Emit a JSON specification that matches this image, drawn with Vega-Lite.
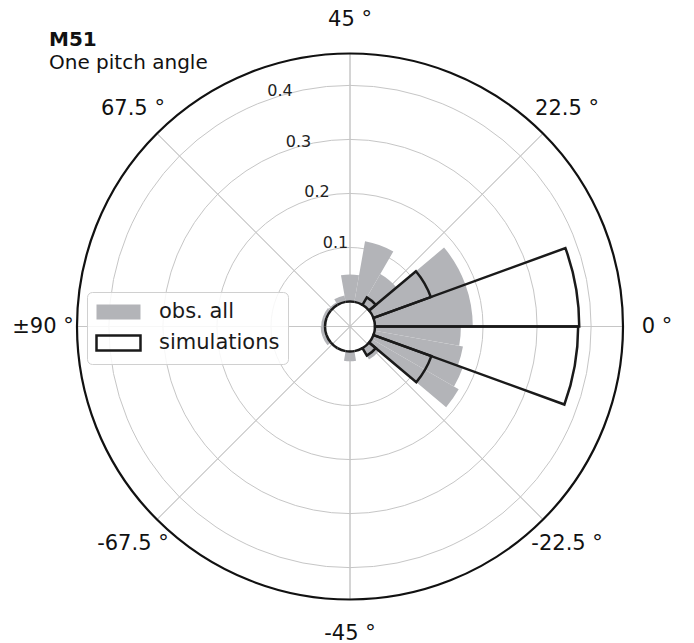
{
  "$schema": "https://vega.github.io/schema/vega-lite/v6.json",
  "width": 688,
  "height": 633,
  "autosize": {"type": "none"},
  "padding": {"left": 6, "top": 10, "right": 0, "bottom": 0},
  "background": "white",
  "title": {
    "text": "M51",
    "subtitle": "One pitch angle",
    "anchor": "start",
    "frame": "group",
    "orient": "top",
    "offset": 0,
    "dx": 43,
    "dy": 64,
    "font": "DejaVu Sans",
    "fontSize": 20,
    "fontWeight": "bold",
    "color": "#111111",
    "subtitleFont": "DejaVu Sans",
    "subtitleFontSize": 20,
    "subtitleColor": "#111111",
    "subtitlePadding": 3
  },
  "datasets": {
    "obs": [
      {"a0": 0, "a1": 10, "v": 0.181, "series": "obs. all"},
      {"a0": 10, "a1": 20, "v": 0.181, "series": "obs. all"},
      {"a0": 20, "a1": 30, "v": 0.066, "series": "obs. all"},
      {"a0": 30, "a1": 40, "v": 0.114, "series": "obs. all"},
      {"a0": 40, "a1": 50, "v": 0.050, "series": "obs. all"},
      {"a0": 50, "a1": 60, "v": 0.012, "series": "obs. all"},
      {"a0": 60, "a1": 70, "v": 0.005, "series": "obs. all"},
      {"a0": 70, "a1": 80, "v": 0.007, "series": "obs. all"},
      {"a0": 80, "a1": 90, "v": 0.007, "series": "obs. all"},
      {"a0": -90, "a1": -80, "v": 0.008, "series": "obs. all"},
      {"a0": -80, "a1": -70, "v": 0.008, "series": "obs. all"},
      {"a0": -70, "a1": -60, "v": 0.003, "series": "obs. all"},
      {"a0": -60, "a1": -50, "v": 0.0, "series": "obs. all"},
      {"a0": -50, "a1": -40, "v": 0.018, "series": "obs. all"},
      {"a0": -40, "a1": -30, "v": 0.0, "series": "obs. all"},
      {"a0": -30, "a1": -20, "v": 0.024, "series": "obs. all"},
      {"a0": -20, "a1": -15, "v": 0.186, "series": "obs. all"},
      {"a0": -15, "a1": -10, "v": 0.176, "series": "obs. all"},
      {"a0": -10, "a1": -5, "v": 0.166, "series": "obs. all"},
      {"a0": -5, "a1": 0, "v": 0.159, "series": "obs. all"}
    ],
    "sim": [
      {"a0": 0, "a1": 10, "v": 0.378, "series": "simulations"},
      {"a0": -10, "a1": 0, "v": 0.376, "series": "simulations"},
      {"a0": 10, "a1": 20, "v": 0.113, "series": "simulations"},
      {"a0": -20, "a1": -10, "v": 0.114, "series": "simulations"},
      {"a0": 20, "a1": 30, "v": 0.016, "series": "simulations"},
      {"a0": -30, "a1": -20, "v": 0.016, "series": "simulations"},
      {"a0": 30, "a1": 40, "v": 0, "series": "simulations"},
      {"a0": 40, "a1": 50, "v": 0, "series": "simulations"},
      {"a0": 50, "a1": 60, "v": 0, "series": "simulations"},
      {"a0": 60, "a1": 70, "v": 0, "series": "simulations"},
      {"a0": 70, "a1": 80, "v": 0, "series": "simulations"},
      {"a0": 80, "a1": 90, "v": 0, "series": "simulations"},
      {"a0": -90, "a1": -80, "v": 0, "series": "simulations"},
      {"a0": -80, "a1": -70, "v": 0, "series": "simulations"},
      {"a0": -70, "a1": -60, "v": 0, "series": "simulations"},
      {"a0": -60, "a1": -50, "v": 0, "series": "simulations"},
      {"a0": -50, "a1": -40, "v": 0, "series": "simulations"},
      {"a0": -40, "a1": -30, "v": 0, "series": "simulations"}
    ],
    "rings": [
      {"r": 0.1, "label": "0.1"},
      {"r": 0.2, "label": "0.2"},
      {"r": 0.3, "label": "0.3"},
      {"r": 0.4, "label": "0.4"}
    ],
    "spokes": [
      {"a": -90, "label": "±90 °"},
      {"a": -67.5, "label": "-67.5 °"},
      {"a": -45, "label": "-45 °"},
      {"a": -22.5, "label": "-22.5 °"},
      {"a": 0, "label": "0 °"},
      {"a": 22.5, "label": "22.5 °"},
      {"a": 45, "label": "45 °"},
      {"a": 67.5, "label": "67.5 °"}
    ],
    "frame": [{"rmax": 0.459}]
  },
  "layer": [
    {
      "data": {"name": "rings"},
      "mark": {"type": "arc", "filled": false, "stroke": "#c6c6c6", "strokeWidth": 1},
      "encoding": {
        "theta": {"datum": -90, "type": "quantitative", "stack": null, "scale": {"domain": [-90, 90], "range": [4.71238898038469, -1.5707963267948966], "zero": false, "nice": false}},
        "theta2": {"datum": 90},
        "radius": {"field": "r", "type": "quantitative", "stack": null, "scale": {"type": "linear", "domain": [0, 0.459], "range": [25, 273], "zero": false, "nice": false}},
        "radius2": {"value": 0}
      }
    },
    {
      "data": {"name": "spokes"},
      "mark": {"type": "arc", "filled": false, "stroke": "#c6c6c6", "strokeWidth": 1},
      "encoding": {
        "theta": {"field": "a", "type": "quantitative", "stack": null, "scale": {"domain": [-90, 90], "range": [4.71238898038469, -1.5707963267948966], "zero": false, "nice": false}},
        "theta2": {"field": "a"},
        "radius": {"datum": 0.459, "type": "quantitative", "stack": null, "scale": {"type": "linear", "domain": [0, 0.459], "range": [25, 273], "zero": false, "nice": false}},
        "radius2": {"value": 0}
      }
    },
    {
      "data": {"name": "obs"},
      "mark": {"type": "arc", "strokeWidth": 0},
      "encoding": {
        "theta": {"field": "a0", "type": "quantitative", "stack": null, "scale": {"domain": [-90, 90], "range": [4.71238898038469, -1.5707963267948966], "zero": false, "nice": false}},
        "theta2": {"field": "a1"},
        "radius": {"field": "v", "type": "quantitative", "stack": null, "scale": {"type": "linear", "domain": [0, 0.459], "range": [25, 273], "zero": false, "nice": false}},
        "radius2": {"datum": 0},
        "fill": {"field": "series", "type": "nominal", "scale": {"domain": ["obs. all", "simulations"], "range": ["#b3b4b8", "transparent"]}, "legend": {"title": null}},
        "stroke": {"field": "series", "type": "nominal", "scale": {"domain": ["obs. all", "simulations"], "range": ["transparent", "#1a1a1a"]}, "legend": {"title": null}}
      }
    },
    {
      "data": {"name": "sim"},
      "mark": {"type": "arc", "strokeWidth": 2.5, "strokeJoin": "miter"},
      "encoding": {
        "theta": {"field": "a0", "type": "quantitative", "stack": null, "scale": {"domain": [-90, 90], "range": [4.71238898038469, -1.5707963267948966], "zero": false, "nice": false}},
        "theta2": {"field": "a1"},
        "radius": {"field": "v", "type": "quantitative", "stack": null, "scale": {"type": "linear", "domain": [0, 0.459], "range": [25, 273], "zero": false, "nice": false}},
        "radius2": {"datum": 0},
        "fill": {"field": "series", "type": "nominal", "scale": {"domain": ["obs. all", "simulations"], "range": ["#b3b4b8", "transparent"]}, "legend": {"title": null}},
        "stroke": {"field": "series", "type": "nominal", "scale": {"domain": ["obs. all", "simulations"], "range": ["transparent", "#1a1a1a"]}, "legend": {"title": null}}
      }
    },
    {
      "data": {"name": "frame"},
      "mark": {"type": "arc", "filled": false, "stroke": "#111111", "strokeWidth": 2.2},
      "encoding": {
        "theta": {"datum": -90, "type": "quantitative", "stack": null, "scale": {"domain": [-90, 90], "range": [4.71238898038469, -1.5707963267948966], "zero": false, "nice": false}},
        "theta2": {"datum": 90},
        "radius": {"field": "rmax", "type": "quantitative", "stack": null, "scale": {"type": "linear", "domain": [0, 0.459], "range": [25, 273], "zero": false, "nice": false}},
        "radius2": {"value": 0}
      }
    },
    {
      "data": {"name": "spokes"},
      "mark": {"type": "text", "radiusOffset": 34, "align": "center", "baseline": "middle", "font": "DejaVu Sans", "fontSize": 21, "color": "#111111"},
      "encoding": {
        "theta": {"field": "a", "type": "quantitative", "stack": null, "scale": {"domain": [-90, 90], "range": [4.71238898038469, -1.5707963267948966], "zero": false, "nice": false}},
        "radius": {"datum": 0.459, "type": "quantitative", "stack": null, "scale": {"type": "linear", "domain": [0, 0.459], "range": [25, 273], "zero": false, "nice": false}},
        "text": {"field": "label"}
      }
    },
    {
      "data": {"name": "rings"},
      "mark": {"type": "text", "dx": 12.5, "dy": -9, "align": "center", "baseline": "middle", "font": "DejaVu Sans", "fontSize": 16, "color": "#222222"},
      "encoding": {
        "theta": {"datum": 55, "type": "quantitative", "stack": null, "scale": {"domain": [-90, 90], "range": [4.71238898038469, -1.5707963267948966], "zero": false, "nice": false}},
        "radius": {"field": "r", "type": "quantitative", "stack": null, "scale": {"type": "linear", "domain": [0, 0.459], "range": [25, 273], "zero": false, "nice": false}},
        "text": {"field": "label"}
      }
    }
  ],
  "config": {
    "view": {"stroke": null},
    "font": "DejaVu Sans",
    "legend": {
      "orient": "none",
      "legendX": 81,
      "legendY": 282,
      "symbolType": "M-1,-0.714H3.19V0.714H-1Z",
      "symbolSize": 441,
      "symbolStrokeWidth": 2.5,
      "labelFont": "DejaVu Sans",
      "labelFontSize": 21,
      "labelColor": "#1a1a1a",
      "labelOffset": 40,
      "rowPadding": 5,
      "padding": 8,
      "fillColor": "rgba(255,255,255,0.85)",
      "strokeColor": "#d0d0d0",
      "cornerRadius": 5
    }
  }
}
